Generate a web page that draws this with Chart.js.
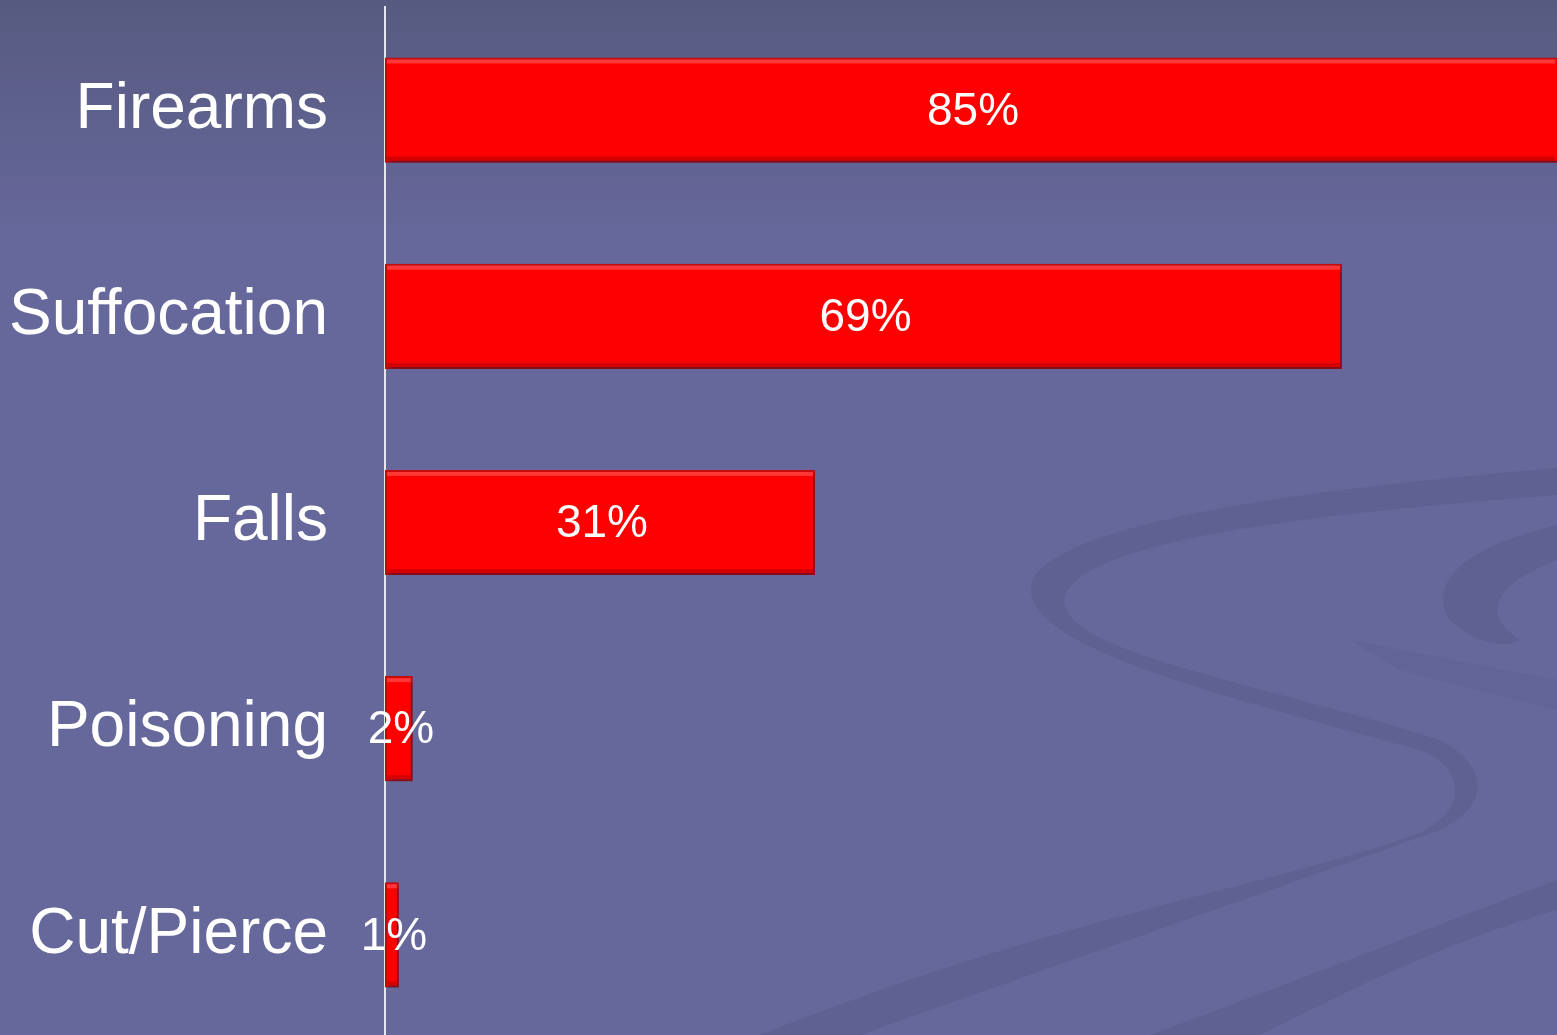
<!DOCTYPE html>
<html>
<head>
<meta charset="utf-8">
<script src="https://cdn.jsdelivr.net/npm/chart.js@4/dist/chart.umd.min.js"></script>
<style>
  html, body { margin: 0; padding: 0; overflow: hidden; background: #66679a; }
  #wrap { width: 1557px; height: 1038px; }
</style>
</head>
<body>
<div id="wrap"><canvas id="chart"></canvas></div>
<script>
// data
const categories = ['Firearms', 'Suffocation', 'Falls', 'Poisoning', 'Cut/Pierce'];
const percents = [85, 69, 31, 2, 1];
const valueLabels = ['85%', '69%', '31%', '2%', '1%'];

const FONT = '"Liberation Sans", Arial, sans-serif';

// background: gradient plus the faint swirl bands
const backdrop = {
    id: 'backdrop',
    beforeDraw(chart) {
        const ctx = chart.ctx;
        const w = chart.width, h = chart.height;
        ctx.save();
        const g = ctx.createLinearGradient(0, 0, 0, 230);
        g.addColorStop(0, '#575a80');
        g.addColorStop(1, '#66679a');
        ctx.fillStyle = g;
        ctx.fillRect(0, 0, w, h);

        ctx.fillStyle = 'rgba(70, 70, 110, 0.16)';
        // big S band
        ctx.beginPath();
        ctx.moveTo(1557, 468);
        ctx.bezierCurveTo(1300, 490, 1080, 520, 1035, 575);
        ctx.bezierCurveTo(1000, 640, 1200, 690, 1420, 750);
        ctx.bezierCurveTo(1470, 770, 1470, 820, 1400, 840);
        ctx.bezierCurveTo(1250, 890, 1050, 920, 760, 1035);
        ctx.lineTo(860, 1035);
        ctx.bezierCurveTo(1100, 950, 1300, 880, 1440, 830);
        ctx.bezierCurveTo(1500, 800, 1480, 760, 1440, 740);
        ctx.bezierCurveTo(1250, 680, 1050, 650, 1065, 595);
        ctx.bezierCurveTo(1090, 540, 1300, 515, 1557, 495);
        ctx.closePath();
        ctx.fill();
        // lower band
        ctx.beginPath();
        ctx.moveTo(1150, 1035);
        ctx.bezierCurveTo(1300, 980, 1450, 920, 1557, 880);
        ctx.lineTo(1557, 910);
        ctx.bezierCurveTo(1450, 940, 1350, 990, 1260, 1035);
        ctx.closePath();
        ctx.fill();
        // right loop
        ctx.beginPath();
        ctx.moveTo(1557, 525);
        ctx.bezierCurveTo(1450, 550, 1430, 590, 1450, 620);
        ctx.bezierCurveTo(1470, 640, 1500, 650, 1520, 640);
        ctx.bezierCurveTo(1490, 620, 1480, 590, 1557, 560);
        ctx.closePath();
        ctx.fill();
        // faint diagonal
        ctx.fillStyle = 'rgba(70, 70, 110, 0.09)';
        ctx.beginPath();
        ctx.moveTo(1350, 640);
        ctx.lineTo(1557, 680);
        ctx.lineTo(1557, 710);
        ctx.lineTo(1400, 670);
        ctx.closePath();
        ctx.fill();
        ctx.restore();
    }
};

// drop shadow under bars, bevel highlight and value labels
const barDecor = {
    id: 'barDecor',
    beforeDatasetsDraw(chart) {
        const ctx = chart.ctx;
        ctx.save();
        ctx.shadowColor = 'rgba(20, 20, 50, 0.45)';
        ctx.shadowBlur = 5;
        ctx.shadowOffsetX = 2;
        ctx.shadowOffsetY = 4;
    },
    afterDatasetsDraw(chart) {
        const ctx = chart.ctx;
        ctx.restore();
        const area = chart.chartArea;
        const meta = chart.getDatasetMeta(0);
        ctx.save();
        meta.data.forEach((bar, i) => {
            const p = bar.getProps(['x', 'y', 'base', 'height'], true);
            const left = p.base;
            const right = Math.min(p.x, area.right);
            const top = p.y - p.height / 2;
            const bottom = p.y + p.height / 2;
            // bevel highlight on top, darker band at bottom
            ctx.fillStyle = 'rgba(255, 110, 110, 0.5)';
            ctx.fillRect(left + 2, top + 2, right - left - 4, 4);
            ctx.fillStyle = 'rgba(150, 0, 0, 0.4)';
            ctx.fillRect(left + 2, bottom - 6, right - left - 4, 4);
            // label
            ctx.fillStyle = '#ffffff';
            ctx.font = '46px ' + FONT;
            ctx.textAlign = 'center';
            ctx.textBaseline = 'middle';
            ctx.fillText(valueLabels[i], (left + right) / 2 + 2, p.y + 2);
        });
        ctx.restore();
    }
};

new Chart(document.getElementById('chart'), {
    type: 'bar',
    data: {
        labels: categories,
        datasets: [{
            data: percents,
            backgroundColor: '#ff0000',
            borderColor: '#c80a0a',
            borderWidth: 2,
            borderSkipped: false,
            categoryPercentage: 1,
            barPercentage: 0.51
        }]
    },
    options: {
        indexAxis: 'y',
        responsive: true,
        maintainAspectRatio: false,
        animation: false,
        layout: { padding: { top: 7, right: 0, bottom: 0, left: 0 } },
        plugins: {
            legend: { display: false },
            tooltip: { enabled: false }
        },
        scales: {
            x: {
                display: false,
                min: 0,
                max: 84.5
            },
            y: {
                grid: { display: false, drawTicks: false },
                border: { display: true, color: '#e6e6f0', width: 2 },
                ticks: {
                    color: '#ffffff',
                    padding: 57,
                    font: { family: FONT, size: 64 }
                },
                afterFit(scale) {
                    scale.width = 385;
                    scale.paddingTop = 0;
                    scale.paddingBottom = 0;
                }
            }
        }
    },
    plugins: [backdrop, barDecor]
});
</script>
</body>
</html>
